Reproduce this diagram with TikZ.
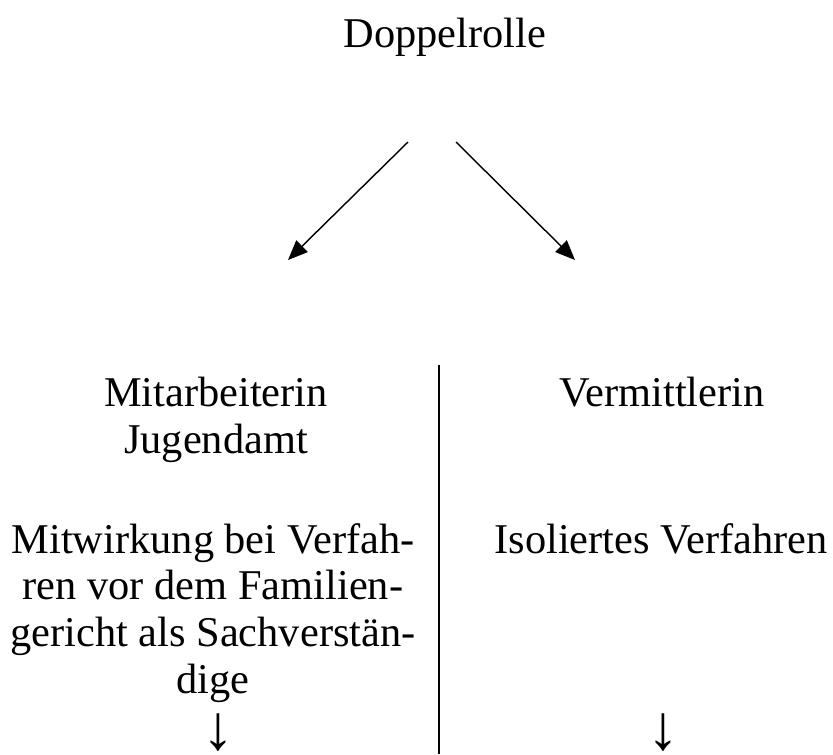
\documentclass[tikz,border=0pt]{standalone}
\usepackage{fontspec}
\setmainfont{Liberation Serif}
\usetikzlibrary{positioning,arrows.meta}

\begin{document}
\begin{tikzpicture}[x=0.283pt, y=-0.283pt,
    txt/.style={font=\fontsize{12}{13.2}\selectfont, align=center, inner sep=0pt, anchor=base},
    runter/.style={font=\fontsize{18}{18}\selectfont, inner sep=0pt, anchor=south},
    pfeil/.style={-{Triangle[length=5.6pt,width=4.6pt]}, line width=0.4pt}]
    \useasboundingbox (0,0) rectangle (833,754);

    % Doppelrolle with both branches
    \node[txt] (rolle) at (445,47) {Doppelrolle};
    \coordinate (lstart) at (408,142);
    \coordinate (lend) at (288,260);
    \coordinate (rstart) at (456,142);
    \coordinate (rend) at (575,260);
    \draw[pfeil] (lstart) -- (lend);
    \draw[pfeil] (rstart) -- (rend);

    % separator
    \coordinate (septop) at (439,365);
    \coordinate (sepbot) at (439,754);
    \draw[line width=0.65pt] (septop) -- (sepbot);

    % left column (base = last line)
    \node[txt] (mitarb) at (216,453) {Mitarbeiterin\\Jugendamt};
    \node[txt] (mitwirk) at (213,693) {Mitwirkung bei Verfah-\\ren vor dem Familien-\\gericht als Sachverstän-\\dige};
    \node[runter] (pfeill) at (218,752) {↓};

    % right column
    \node[txt] (vermitt) at (662,406) {Vermittlerin};
    \node[txt] (isol) at (661,553) {Isoliertes Verfahren};
    \node[runter] (pfeilr) at (663,752) {↓};
\end{tikzpicture}
\end{document}
